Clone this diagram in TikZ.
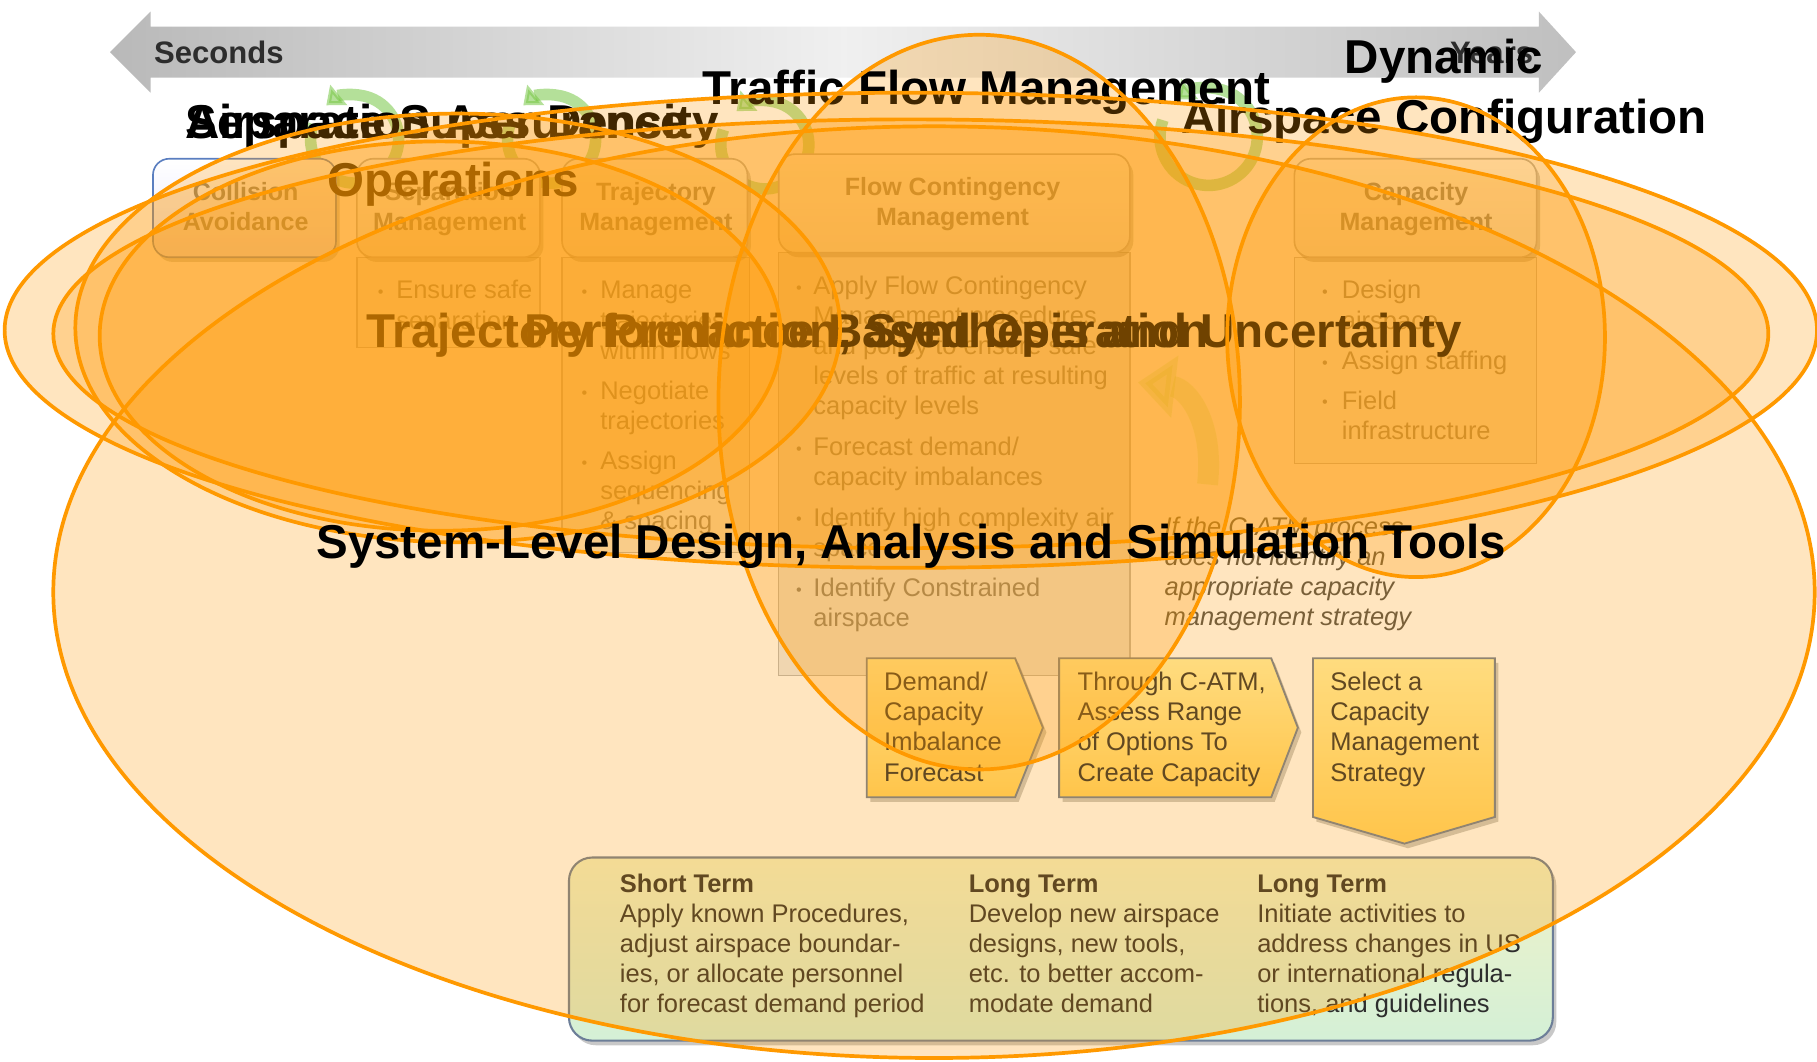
\documentclass[tikz,border=0pt]{standalone}
\usepackage{fontspec}
\setmainfont{Liberation Sans}
\usetikzlibrary{shadows,arrows.meta}

\definecolor{ovl}{RGB}{255,153,0}
\definecolor{slate}{RGB}{108,126,152}
\definecolor{fadetxt}{RGB}{125,125,125}
\definecolor{darktxt}{RGB}{45,45,45}
\definecolor{hdrblue}{RGB}{90,126,192}
\definecolor{chevtop}{RGB}{255,243,170}
\definecolor{chevbot}{RGB}{255,212,100}
\definecolor{boxtop}{RGB}{240,242,200}
\definecolor{boxbot}{RGB}{212,240,214}
\definecolor{swirlgreen}{RGB}{120,200,70}

% one node per text line, 26 units apart
\newcommand\textlines[5]{%
  \foreach \ln [count=\k from 0] in {#5}{%
    \node[anchor=base west, #2] (#1-\k) at (#3,{#4+26*\k}) {\ln};}}

\tikzset{
  lbl/.style={font=\fontsize{20.5}{25}\selectfont\bfseries, inner sep=0, outer sep=0, text=black},
  timetxt/.style={font=\fontsize{13.4}{16}\selectfont\bfseries, inner sep=0, outer sep=0, text=darktxt},
  hdrtxt/.style={font=\fontsize{10.8}{13}\selectfont\bfseries, inner sep=0, outer sep=0, text=fadetxt, anchor=base},
  coltxt/.style={font=\fontsize{11}{13}\selectfont, inner sep=0, outer sep=0, text=fadetxt},
  dtxt/.style={font=\fontsize{11}{13}\selectfont, inner sep=0, outer sep=0, text=darktxt},
  btxt/.style={font=\fontsize{11}{13}\selectfont\bfseries, inner sep=0, outer sep=0, text=darktxt},
  itxt/.style={font=\fontsize{11}{13}\selectfont\itshape, inner sep=0, outer sep=0, text=darktxt!85},
  blt/.style={font=\fontsize{7}{8}\selectfont, inner sep=0, outer sep=0, text=fadetxt, anchor=base west},
  shd/.style={drop shadow={shadow xshift=1.5pt, shadow yshift=-2pt, opacity=.3, fill=black!70}},
  hdrbox/.style={draw=gray!60, line width=.7pt, rounded corners=7pt, top color=white, bottom color=gray!12, shd},
  colbox/.style={draw=gray!55, line width=.6pt, fill=gray!7},
  chev/.style={draw=slate, line width=.8pt, top color=chevtop, bottom color=chevbot, shd},
  swirl/.style={draw=swirlgreen, line width=5pt, opacity=.55, -{Triangle[length=7pt,width=11pt]}},
  areafill/.style={fill=ovl, fill opacity=.25},
  arealine/.style={draw=ovl, line width=1.6pt},
}

\begin{document}
\begin{tikzpicture}[x=0.5pt, y=-0.5pt]
\path[use as bounding box, fill=white] (0,0) rectangle (1568,916);

% ---------- time scale arrow ----------
\shade[left color=gray!55, right color=gray!50, middle color=gray!12]
  (95,45) -- (130,10) -- (130,23) -- (1328,23) -- (1328,10) -- (1360,45)
  -- (1328,80) -- (1328,67) -- (130,67) -- (130,80) -- cycle;
\node[timetxt, anchor=base west] (seconds) at (133,54.5) {Seconds};
\node[timetxt, anchor=base east] (years) at (1323,54.5) {Years};

% ---------- cycle arrows between the functions ----------
\draw[swirl] (306,120) ++(200:38) arc[start angle=200, end angle=-130, radius=38];
\draw[swirl] (476,120) ++(200:38) arc[start angle=200, end angle=-130, radius=38];
\draw[swirl] (660,125) ++(200:38) arc[start angle=200, end angle=-130, radius=38];
\draw[swirl] (1043,118) ++(200:42) arc[start angle=200, end angle=-130, radius=42];

% ---------- function columns ----------
\draw[colbox] (308,222) rectangle (466,300);
\draw[colbox] (485,222) rectangle (647,477);
\draw[colbox, fill=gray!16] (672,218) rectangle (975,583);
\draw[colbox] (1117,222) rectangle (1326,400);

\draw[hdrbox, draw=hdrblue, top color=white, bottom color=blue!10] (132,137) rectangle (290,222);
\draw[hdrbox] (308,137) rectangle (466,222);
\draw[hdrbox] (485,137) rectangle (645,222);
\draw[hdrbox] (672,133) rectangle (975,218);
\draw[hdrbox] (1117,137) rectangle (1326,222);

\textlines{ca}{hdrtxt}{212}{173}{Collision,Avoidance}
\textlines{sm}{hdrtxt}{388}{173}{Separation,Management}
\textlines{tm}{hdrtxt}{566}{173}{Trajectory,Management}
\textlines{fcm}{hdrtxt}{822}{169}{Flow Contingency,Management}
\textlines{cm}{hdrtxt}{1222}{173}{Capacity,Management}

% separation management
\node[blt] (smb1) at (326,257) {\textbullet};
\textlines{smt1}{coltxt}{342}{258}{Ensure safe,separation}
% trajectory management
\node[blt] (tmb1) at (502,257) {\textbullet};
\node[blt] (tmb2) at (502,344) {\textbullet};
\node[blt] (tmb3) at (502,404) {\textbullet};
\textlines{tmt1}{coltxt}{518}{258}{Manage,trajectories,within flows}
\textlines{tmt2}{coltxt}{518}{345}{Negotiate,trajectories}
\textlines{tmt3}{coltxt}{518}{405}{Assign,sequencing,\& spacing}
% flow contingency management
\node[blt] (fcmb1) at (687,253) {\textbullet};
\node[blt] (fcmb2) at (687,392) {\textbullet};
\node[blt] (fcmb3) at (687,453) {\textbullet};
\node[blt] (fcmb4) at (687,514) {\textbullet};
\textlines{fcmt1}{coltxt}{702}{254}{Apply Flow Contingency,Management procedures,and policy to ensure safe,levels of traffic at resulting,capacity levels}
\textlines{fcmt2}{coltxt}{702}{393}{Forecast demand/,capacity imbalances}
\textlines{fcmt3}{coltxt}{702}{454}{Identify high complexity air,space}
\textlines{fcmt4}{coltxt}{702}{515}{Identify Constrained,airspace}
% capacity management
\node[blt] (cmb1) at (1141,257) {\textbullet};
\node[blt] (cmb2) at (1141,318) {\textbullet};
\node[blt] (cmb3) at (1141,352) {\textbullet};
\textlines{cmt1}{coltxt}{1158}{258}{Design,airspace}
\textlines{cmt2}{coltxt}{1158}{319}{Assign staffing}
\textlines{cmt3}{coltxt}{1158}{353}{Field,infrastructure}

% feedback arrow
\draw[line width=9pt, yellow!55!green, opacity=.2, -{Triangle[length=16pt,width=26pt]}]
  (1042,418) .. controls (1048,365) and (1025,335) .. (982,330);

% ---------- capacity management process ----------
\textlines{ifc}{itxt}{1005}{462}{If the C-ATM process,does not identify an,appropriate capacity,management strategy}

\draw[chev] (748,568) -- (876,568) -- (900,628) -- (876,688) -- (748,688) -- cycle;
\draw[chev] (914,568) -- (1097,568) -- (1120,628) -- (1097,688) -- (914,688) -- cycle;
\draw[chev] (1133,568) -- (1290,568) -- (1290,705) -- (1212,728) -- (1133,705) -- cycle;
\textlines{dcf}{dtxt}{763}{596}{Demand/,Capacity,Imbalance,Forecast}
\textlines{thr}{dtxt}{930}{596}{{Through C-ATM,},Assess Range,of Options To,Create Capacity}
\textlines{sel}{dtxt}{1148}{596}{Select a,Capacity,Management,Strategy}

\draw[draw=slate, line width=.9pt, rounded corners=10pt, top color=boxtop, bottom color=boxbot, shd]
  (491,740) rectangle (1340,898);
\node[btxt, anchor=base west] (st) at (535,770) {Short Term};
\node[btxt, anchor=base west] (lt1) at (836,770) {Long Term};
\node[btxt, anchor=base west] (lt2) at (1085,770) {Long Term};
\textlines{stt}{dtxt}{535}{796}{{Apply known Procedures,},adjust airspace boundar-,{ies, or allocate personnel},for forecast demand period}
\textlines{ltt1}{dtxt}{836}{796}{Develop new airspace,{designs, new tools,},etc. to better accom-,modate demand}
\textlines{ltt2}{dtxt}{1085}{796}{Initiate activities to,address changes in US,or international regula-,{tions, and guidelines}}

% ---------- research focus areas ----------
\path[areafill] (806,511) ellipse [x radius=760, y radius=402];
\path[areafill] (845,347) ellipse [x radius=225, y radius=317];
\path[areafill] (1222,291) ellipse [x radius=163, y radius=207];

\node[lbl, anchor=base] (tfm) at (851,90) {Traffic Flow Management};
\node[lbl, anchor=base] (dac1) at (1246,63) {Dynamic};
\node[lbl, anchor=base] (dac2) at (1246,115) {Airspace Configuration};
\node[lbl, anchor=base west] (asdo1) at (160,119.5) {Airspace Super Density};
\node[lbl, anchor=base] (asdo2) at (391,169.5) {Operations};
\node[lbl, anchor=base west] (sa) at (160,119.5) {Separation Assurance};
\node[lbl, anchor=base west] (tpsu) at (316,300) {Trajectory Prediction, Synthesis and Uncertainty};
\node[lbl, anchor=base west] (pbo) at (453,300) {Performance Based Operation};

\path[areafill] (380,290) ellipse [x radius=294, y radius=168];
\path[areafill] (395,283) ellipse [x radius=330, y radius=185];
\path[areafill] (786,285) ellipse [x radius=782, y radius=205];
\path[areafill] (786,288) ellipse [x radius=740, y radius=185];

\path[arealine] (806,511) ellipse [x radius=760, y radius=402];
\path[arealine] (845,347) ellipse [x radius=225, y radius=317];
\path[arealine] (1222,291) ellipse [x radius=163, y radius=207];
\path[arealine] (380,290) ellipse [x radius=294, y radius=168];
\path[arealine] (395,283) ellipse [x radius=330, y radius=185];
\path[arealine] (786,285) ellipse [x radius=782, y radius=205];
\path[arealine] (786,288) ellipse [x radius=740, y radius=185];

\node[lbl, anchor=base west] (sldast) at (273,482) {System-Level Design, Analysis and Simulation Tools};
\end{tikzpicture}
\end{document}
